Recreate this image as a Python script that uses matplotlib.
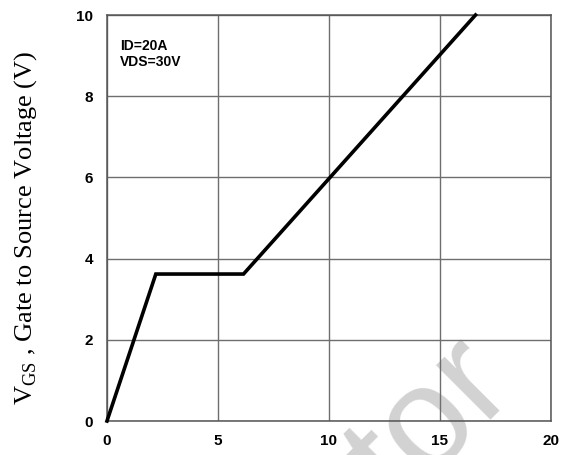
import numpy as np
import matplotlib
matplotlib.use("Agg")
import matplotlib.pyplot as plt

# gate charge curve (x in nC, y in V)
qg = [0.0, 2.2, 6.15, 16.6]
vgs = [0.0, 3.62, 3.62, 10.0]

x_ticks = [0, 5, 10, 15, 20]
y_ticks = [0, 2, 4, 6, 8, 10]

plt.rcParams['mathtext.fontset'] = 'custom'
plt.rcParams['mathtext.rm'] = 'Liberation Serif'

fig = plt.figure(figsize=(5.66, 4.55), dpi=100)
ax = fig.add_axes([0.189, 0.0747, 0.7845, 0.8923])
ax.patch.set_alpha(0)

ax.plot(qg, vgs, color='black', lw=2.6, solid_joinstyle='miter', zorder=3, clip_on=False)

ax.set_xlim(0, 20)
ax.set_ylim(0, 10)
ax.set_xticks(x_ticks)
ax.set_yticks(y_ticks)
ax.grid(True, color='#6e6e6e', lw=1.0)
ax.set_axisbelow(True)
for s in ax.spines.values():
    s.set_color('#555555')
    s.set_linewidth(1.1)

ax.tick_params(length=0, labelsize=11, pad=10)
ax.tick_params(axis='x', pad=9)
for lab in ax.get_xticklabels() + ax.get_yticklabels():
    lab.set_fontfamily('Liberation Sans')
    lab.set_fontweight('bold')

ax.text(0.6, 9.42, 'ID=20A\nVDS=30V', fontfamily='Liberation Sans', fontweight='bold',
        fontsize=10, va='top', ha='left', linespacing=1.25)

fig.text(0.045, 0.50, r'$\mathrm{V}_{\mathrm{GS}}$ , Gate to Source Voltage (V)',
         rotation=90, va='center', ha='center', fontfamily='Liberation Serif', fontsize=19)

# watermark
fig.text(0.763, 0.07, 'tor', rotation=45, rotation_mode='anchor', ha='center', va='center',
         fontfamily='Liberation Sans', fontsize=104, color='#d2d2d2', zorder=-1)

fig.savefig('out.png', dpi=100)
